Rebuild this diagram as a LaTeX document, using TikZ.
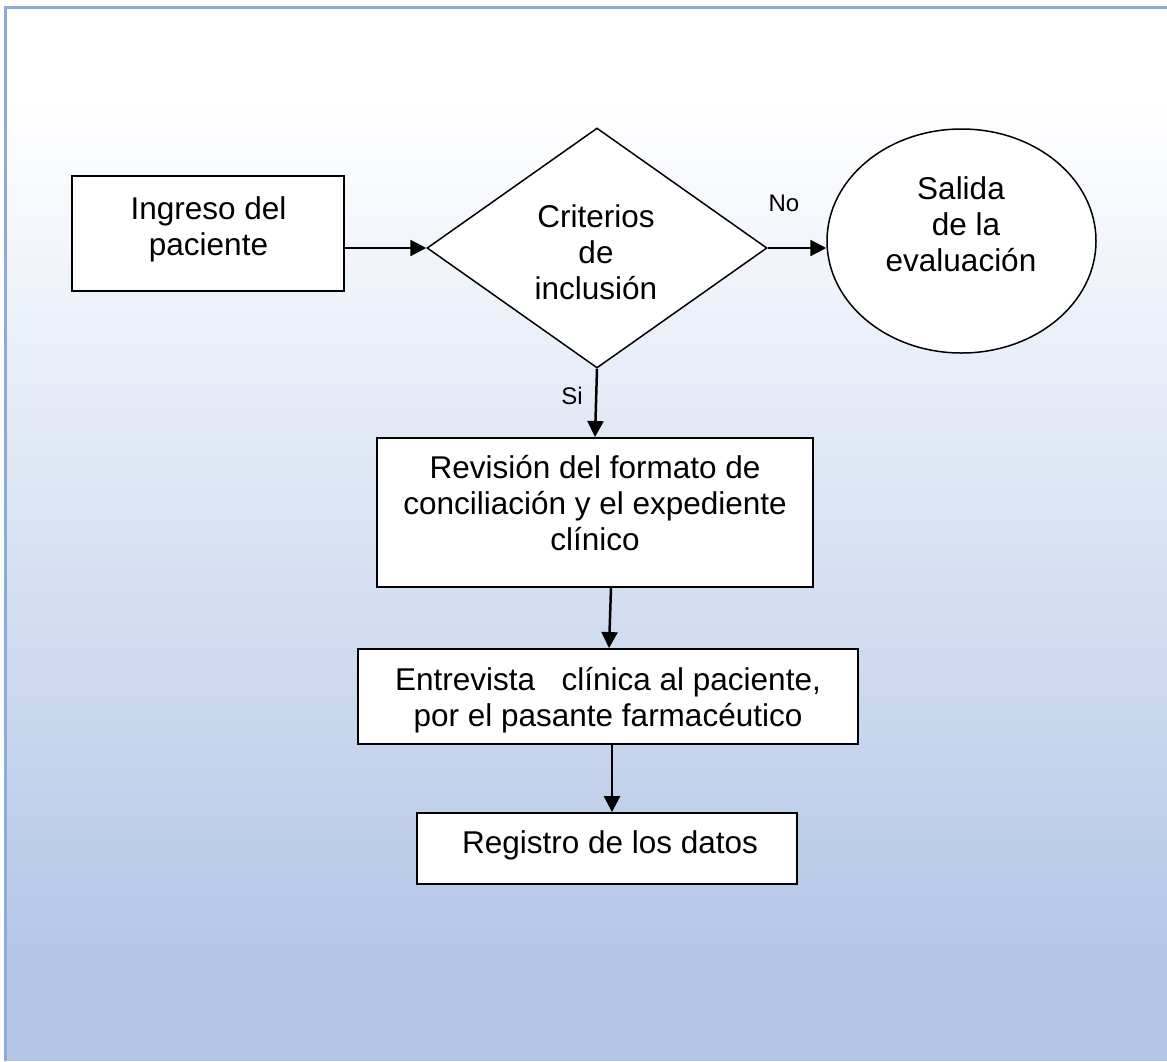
\documentclass[tikz,border=0pt]{standalone}
\usepackage{fontspec}
\setmainfont{Liberation Sans}
\usetikzlibrary{shapes.geometric,arrows.meta}
\definecolor{bgblue}{RGB}{180,199,231}
\definecolor{frameblue}{RGB}{142,170,219}
\newcommand\mylines[1]{\begin{tabular}[t]{@{}c@{}}#1\end{tabular}}
\tikzset{
  box/.style={draw=black,line width=1.9pt,fill=white,inner sep=0pt},
  txt/.style={font=\fontsize{31.5}{36}\selectfont,anchor=base,inner sep=0pt},
  lbl/.style={font=\fontsize{24}{28}\selectfont,anchor=base,inner sep=0pt},
  conn/.style={draw=black,line width=2.5pt,-{Triangle[length=16pt,width=16pt]}}
}
\begin{document}
\begin{tikzpicture}[x=1pt,y=-1pt]
\useasboundingbox (0,0) rectangle (1167,1061);
% background
\fill[white] (0,0) rectangle (1167,1061);
\shade[top color=white,bottom color=bgblue] (5,100) rectangle (1167,950);
\fill[bgblue] (5,949.5) rectangle (1167,1061);
\draw[frameblue,line width=3pt] (5.5,1061) -- (5.5,7.5) -- (1167,7.5);
% shapes
\node[box,minimum width=272pt,minimum height=115pt] (b1) at (208,233.5) {};
\node[box,diamond,minimum width=340pt,minimum height=240pt,line width=1.5pt] (d) at (597,248) {};
\node[box,ellipse,minimum width=269pt,minimum height=224pt,line width=1.5pt] (e) at (961.5,241) {};
\node[box,minimum width=436pt,minimum height=149pt] (b2) at (595,512.5) {};
\node[box,minimum width=500pt,minimum height=95pt] (b3) at (608,696.5) {};
\node[box,minimum width=380pt,minimum height=71pt] (b4) at (607,848.5) {};
% texts
\node[txt] (t1) at (208.5,219) {\mylines{Ingreso del\\paciente}};
\node[txt] (td) at (596,227) {\mylines{Criterios\\de\\inclusión}};
\node[txt] (te) at (961,199) {\mylines{Salida\\\hspace*{10pt}de la\\evaluación}};
\node[txt] (t2) at (595,478) {\mylines{Revisión del formato de\\conciliación y el expediente\\clínico}};
\node[txt] (t3) at (608,690) {\mylines{Entrevista\hspace{26.5pt}clínica al paciente,\\por el pasante farmacéutico}};
\node[txt] (t4) at (610,853) {Registro de los datos};
\node[lbl] (no) at (784,211) {No};
\node[lbl] (si) at (572,404) {Si};
% connectors
\draw[conn] (b1.east |- d.west) -- (d.west);
\draw[conn] (d.east) -- ([yshift=-7pt]e.west);
\draw[conn] (d.south) -- (b2.north);
\draw[conn] ([xshift=16pt]b2.south) -- ([xshift=1pt]b3.north);
\draw[conn] ([xshift=4pt]b3.south) -- ([xshift=5pt]b4.north);
\end{tikzpicture}
\end{document}
